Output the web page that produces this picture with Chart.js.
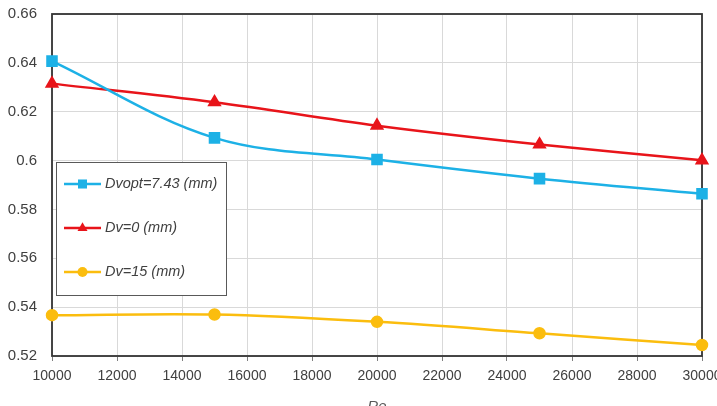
<!DOCTYPE html>
<html>
<head>
<meta charset="utf-8">
<script src="https://cdn.jsdelivr.net/npm/chart.js@4/dist/chart.umd.min.js"></script>
<style>
  html, body { margin: 0; padding: 0; background: #fff; overflow: hidden; }
  #wrap { position: absolute; left: 0; top: -10px; width: 740px; height: 430px; }
</style>
</head>
<body>
<div id="wrap"><canvas id="chart"></canvas></div>
<script>
const reValues = [10000, 15000, 20000, 25000, 30000]
const dvopt = [0.6407, 0.6093, 0.6004, 0.5926, 0.5864]
const dv0 = [0.6315, 0.6239, 0.6143, 0.6066, 0.6001]
const dv15 = [0.5367, 0.5370, 0.5340, 0.5293, 0.5245]
const seriesNames = ['Dvopt=7.43 (mm)', 'Dv=0 (mm)', 'Dv=15 (mm)']
const xTickMin = 10000, xTickMax = 30000, xTickStep = 2000
const yTickMin = 0.52, yTickMax = 0.66, yTickStep = 0.02

const toPoints = (ys) => reValues.map((x, i) => ({ x: x, y: ys[i] }))

const lineStyle = (color, shape, radius) => ({
  borderColor: color,
  backgroundColor: color,
  pointBackgroundColor: color,
  pointBorderColor: color,
  pointStyle: shape,
  pointRadius: radius,
  pointHoverRadius: radius,
  borderWidth: 2.5,
  tension: 0.35,
  clip: false
})

// plot frame drawn under the lines
const frame = {
  id: 'frame',
  beforeDatasetsDraw(chart) {
    const { ctx, chartArea: a } = chart
    ctx.save()
    ctx.strokeStyle = '#333333'
    ctx.lineWidth = 1.8
    ctx.strokeRect(a.left, a.top, a.right - a.left, a.bottom - a.top)
    ctx.restore()
  }
}

// boxed legend sitting inside the plot area
const boxLegend = {
  id: 'boxLegend',
  afterDatasetsDraw(chart) {
    const { ctx, chartArea: a } = chart
    const bx = a.left + 4, by = a.top + 148, bw = 170, bh = 133
    ctx.save()
    ctx.fillStyle = '#ffffff'
    ctx.fillRect(bx, by, bw, bh)
    ctx.strokeStyle = '#595959'
    ctx.lineWidth = 1
    ctx.strokeRect(bx + 0.5, by + 0.5, bw, bh)
    chart.data.datasets.forEach((ds, i) => {
      const y = by + 22 + i * 44
      ctx.strokeStyle = ds.borderColor
      ctx.lineWidth = 2.5
      ctx.beginPath()
      ctx.moveTo(bx + 8, y)
      ctx.lineTo(bx + 45, y)
      ctx.stroke()
      ctx.fillStyle = ds.borderColor
      Chart.helpers.drawPoint(ctx, { pointStyle: ds.pointStyle, radius: ds.pointRadius, rotation: 0, borderWidth: 0 }, bx + 26.5, y)
      ctx.fillStyle = '#404040'
      ctx.font = 'italic 14.5px "Liberation Sans", Arial, sans-serif'
      ctx.textBaseline = 'middle'
      ctx.textAlign = 'left'
      ctx.fillText(ds.label, bx + 49, y)
    })
    ctx.restore()
  }
}

new Chart(document.getElementById('chart'), {
  type: 'line',
  data: {
    datasets: [
      Object.assign({ label: seriesNames[0], data: toPoints(dvopt) }, lineStyle('#1DB1E6', 'rect', 6.4)),
      Object.assign({ label: seriesNames[1], data: toPoints(dv0) }, lineStyle('#E8141A', 'triangle', 5.8)),
      Object.assign({ label: seriesNames[2], data: toPoints(dv15) }, lineStyle('#FBBD0E', 'circle', 5))
    ]
  },
  plugins: [frame, boxLegend],
  options: {
    responsive: true,
    maintainAspectRatio: false,
    animation: false,
    layout: { padding: { top: 3, right: 38, left: 0, bottom: 0 } },
    plugins: {
      legend: { display: false },
      tooltip: { enabled: false }
    },
    scales: {
      x: {
        type: 'linear',
        min: xTickMin,
        max: xTickMax,
        afterFit: (scale) => { scale.height = 64 },
        ticks: {
          stepSize: xTickStep,
          autoSkip: false,
          maxRotation: 0,
          padding: 7,
          color: '#404040',
          font: { family: '"Liberation Sans", Arial, sans-serif', size: 14 },
          callback: (v) => String(v)
        },
        grid: { color: '#d9d9d9', lineWidth: 1, drawTicks: true, tickLength: 5, tickColor: '#7f7f7f' },
        border: { display: false },
        title: {
          display: true,
          text: 'Re',
          color: '#595959',
          font: { family: '"Liberation Sans", Arial, sans-serif', size: 15, style: 'italic' },
          padding: { top: 0, bottom: 4 }
        }
      },
      y: {
        min: yTickMin,
        max: yTickMax,
        afterFit: (scale) => { scale.width = 52 },
        ticks: {
          stepSize: yTickStep,
          padding: 15,
          color: '#404040',
          font: { family: '"Liberation Sans", Arial, sans-serif', size: 15 },
          callback: (v) => String(+v.toFixed(2))
        },
        grid: { color: '#d9d9d9', lineWidth: 1, drawTicks: false },
        border: { display: false }
      }
    }
  }
})
</script>
</body>
</html>
